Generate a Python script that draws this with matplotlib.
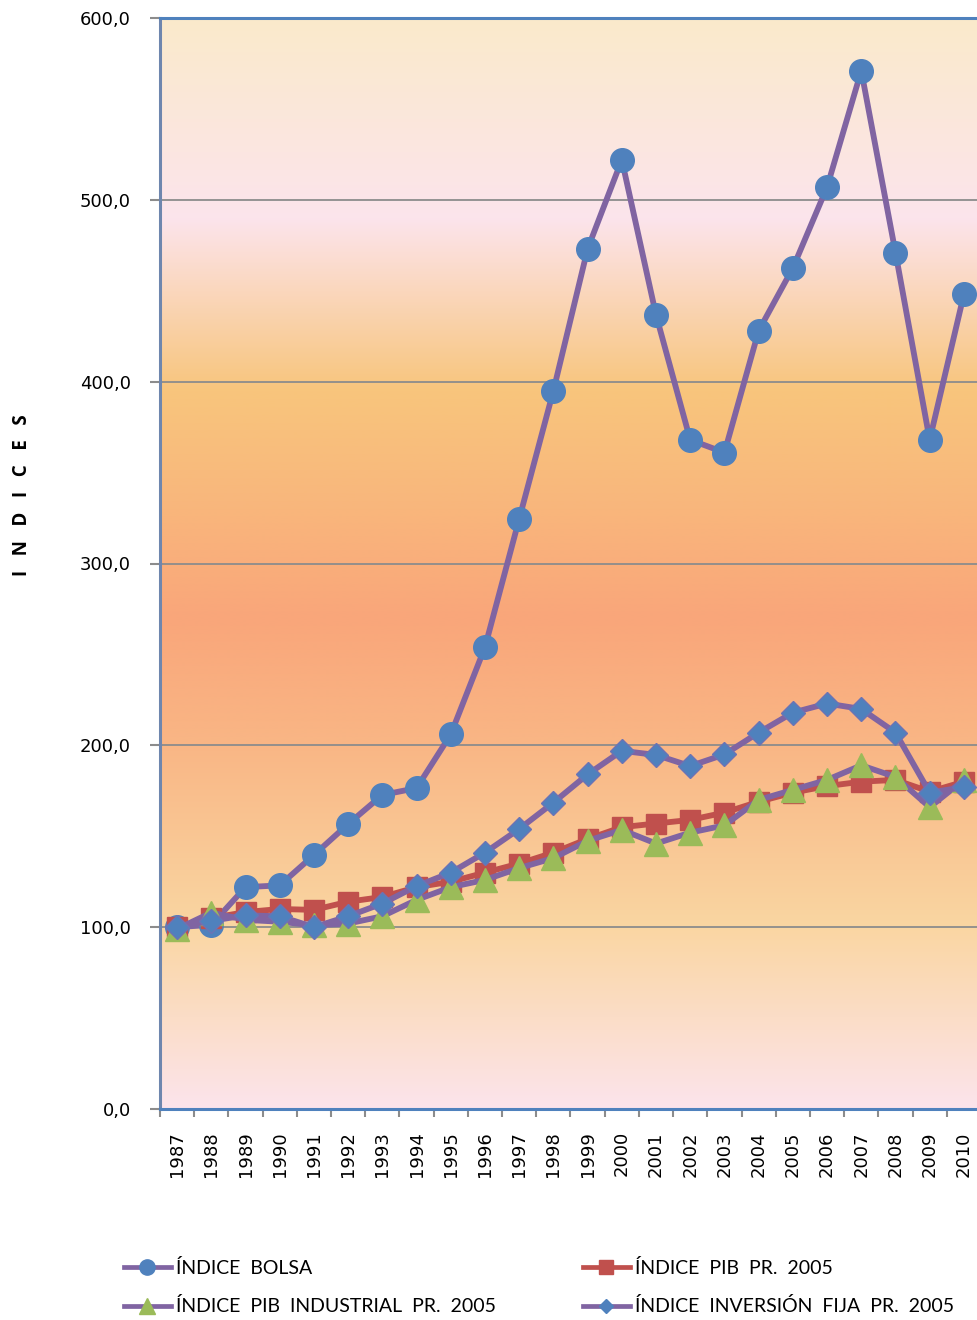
import numpy as np
import matplotlib
matplotlib.use("Agg")
import matplotlib.pyplot as plt
from matplotlib.lines import Line2D

years = [str(y) for y in range(1987, 2011)]
indice_bolsa = [100.0, 101.3, 122.0, 123.0, 139.7, 156.7, 172.7, 176.5, 206.0, 254.0, 324.5, 395.0,
                473.0, 522.0, 436.7, 368.0, 361.0, 428.0, 462.5, 507.0, 571.0, 471.0, 368.0, 448.0]
indice_pib = [100.0, 105.0, 108.3, 110.0, 109.5, 114.0, 116.6, 122.0, 125.0, 130.0, 135.0, 141.0,
              148.5, 155.0, 157.0, 159.0, 163.0, 169.0, 174.0, 177.6, 180.0, 181.0, 174.5, 180.0]
indice_pib_ind = [99.0, 108.0, 104.0, 103.0, 101.0, 102.0, 106.0, 115.0, 122.0, 126.0, 132.5, 138.0,
                  147.5, 153.5, 146.0, 152.0, 156.0, 170.0, 175.5, 181.0, 189.0, 182.6, 166.0, 181.0]
indice_inversion = [100.0, 103.5, 106.5, 106.0, 100.0, 106.0, 113.0, 122.6, 130.0, 141.0, 154.0, 168.5,
                    184.0, 197.0, 194.7, 188.6, 195.0, 207.0, 218.0, 223.0, 220.0, 207.0, 174.0, 177.0]
y_ticks = [0, 100, 200, 300, 400, 500, 600]
labels = ["ÍNDICE  BOLSA", "ÍNDICE  PIB  PR.  2005",
          "ÍNDICE  PIB  INDUSTRIAL  PR.  2005", "ÍNDICE  INVERSIÓN  FIJA  PR.  2005"]

PURPLE = "#8064A2"
BLUE = "#4F81BD"
RED = "#C0504D"
GREEN = "#9BBB59"

W, H = 978, 1320
fig = plt.figure(figsize=(W / 100, H / 100), dpi=100)
left, right, top, bottom = 160, 981, 18, 1109
ax = fig.add_axes([left / W, 1 - bottom / H, (right - left) / W, (bottom - top) / H])

# background gradient (value -> colour)
stops_v = [0, 100, 200, 270, 330, 395, 490, 600]
stops_c = np.array([(252, 228, 236), (250, 214, 162), (249, 182, 133), (249, 166, 122),
                    (249, 182, 124), (248, 197, 124), (252, 228, 236), (250, 234, 203)]) / 255.0
vv = np.linspace(600, 0, 600)
grad = np.stack([np.interp(vv, stops_v, stops_c[:, k]) for k in range(3)], axis=-1)[:, None, :]
ax.imshow(grad, extent=(-0.5, len(years) - 0.5, 0, 600), aspect="auto", zorder=0,
          interpolation="bilinear")

x = np.arange(len(years))
lw = 4.2
ax.plot(x, indice_bolsa, color=PURPLE, lw=lw, marker="o", ms=17, mfc=BLUE, mec=BLUE, zorder=3)
ax.plot(x, indice_pib, color=RED, lw=lw, marker="s", ms=15, mfc=RED, mec=RED, zorder=4)
ax.plot(x, indice_pib_ind, color=PURPLE, lw=lw, marker="^", ms=17, mfc=GREEN, mec=GREEN, zorder=5)
ax.plot(x, indice_inversion, color=PURPLE, lw=lw, marker="D", ms=12, mfc=BLUE, mec="#6B73B5",
        mew=1.0, zorder=6)

ax.set_xlim(-0.5, len(years) - 0.5)
ax.set_ylim(0, 600)
ax.set_yticks(y_ticks)
ax.set_yticklabels([f"{v:.1f}".replace(".", ",") for v in y_ticks])
for v in y_ticks[1:-1]:
    ax.axhline(v, color="#8C8C8C", lw=1.3, zorder=1)

ax.set_xticks(x)
ax.set_xticklabels(years, rotation=90, va="top", ha="center")
ax.set_xticks(np.arange(len(years) + 1) - 0.5, minor=True)
ax.tick_params(axis="x", which="major", length=0, pad=16, labelsize=13, colors="black")
ax.tick_params(axis="x", which="minor", length=6, width=1.5, color="#8C8C8C", direction="out")
ax.tick_params(axis="y", length=7, width=1.5, color="#8C8C8C", direction="out", pad=14,
               labelsize=13)
for s in ["left", "top", "bottom"]:
    ax.spines[s].set_color(BLUE)
    ax.spines[s].set_linewidth(2.2)
ax.spines["left"].set_color("#6E86AE")
ax.spines["right"].set_visible(False)

fig.text(22 / W, 1 - 495 / H, "I   N   D   I   C   E   S", rotation=90, ha="center", va="center",
         fontsize=13.5, fontweight="bold", family=["Open Sans", "DejaVu Sans"])

handles = [
    Line2D([], [], color=PURPLE, lw=3.4, marker="o", ms=11, mfc=BLUE, mec=BLUE),
    Line2D([], [], color=PURPLE, lw=3.4, marker="^", ms=12, mfc=GREEN, mec=GREEN),
    Line2D([], [], color=RED, lw=3.4, marker="s", ms=10.5, mfc=RED, mec=RED),
    Line2D([], [], color=PURPLE, lw=3.4, marker="D", ms=7.5, mfc=BLUE, mec=BLUE),
]
leg_labels = [labels[0], labels[2], labels[1], labels[3]]
fig.legend(handles, leg_labels, ncol=2, loc="upper left", bbox_to_anchor=(124 / W, 1 - 1259 / H),
           frameon=False, handlelength=2.4, handletextpad=0.25, columnspacing=4.5,
           labelspacing=1.05, borderaxespad=0, borderpad=0,
           prop={"family": ["Lato", "DejaVu Sans"], "size": 14})

fig.savefig("out.png", dpi=100)
